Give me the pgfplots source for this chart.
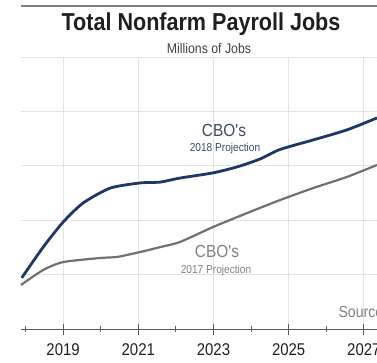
\documentclass[border=0pt]{standalone}
\usepackage{fontspec}
\setmainfont{Liberation Sans}
\newfontfamily\nsans[FakeStretch=0.88]{Liberation Sans}
\usepackage{pgfplots}
\pgfplotsset{compat=1.18}
\definecolor{navy}{RGB}{30,55,100}
\definecolor{lgray}{RGB}{112,112,112}
\definecolor{gridc}{RGB}{226,226,226}
\definecolor{axc}{RGB}{90,90,90}
\definecolor{labblue}{RGB}{60,74,100}
\definecolor{labgray}{RGB}{128,128,128}
\begin{document}
\begin{tikzpicture}[x=1pt,y=1pt]
\useasboundingbox (0,0) rectangle (377,362);
\clip (0,0) rectangle (377,362);
\begin{axis}[
  at={(21pt,33pt)}, anchor=south west,
  scale only axis, width=356pt, height=272pt,
  xmin=2017.88, xmax=2027.35, ymin=146, ymax=156,
  axis x line*=bottom, axis y line*=left,
  y axis line style={draw=none},
  x axis line style={color=axc, line width=1pt},
  ytick={146,148,...,156}, yticklabels={},
  ytick style={draw=none},
  xtick={2019,2021,2023,2025,2027},
  minor xtick={2018,2020,2022,2024,2026},
  xticklabels={2019,2021,2023,2025,2027},
  tick align=center,
  major tick length=11pt, minor tick length=6pt,
  xtick style={color=axc, line width=1pt},
  xmajorgrids, ymajorgrids,
  grid style={color=gridc, line width=0.8pt},
  /pgf/number format/assume math mode=true,
  x tick label style={font=\nsans\fontsize{17}{17}\selectfont, text=black!88, yshift=-5.5pt},
  clip=false,
]
\addplot[color=lgray, line width=2.2pt, smooth, tension=0.4] coordinates {
(2017.88,147.62) (2018.47,148.17) (2019.00,148.46) (2019.98,148.61) (2020.44,148.65)
(2021.05,148.83) (2021.58,149.01) (2022.11,149.20) (2022.99,149.75) (2023.89,150.26)
(2024.77,150.74) (2025.65,151.18) (2026.55,151.59) (2027.35,152.03)
};
\addplot[color=navy, line width=2.8pt, smooth, tension=0.4] coordinates {
(2017.90,147.88) (2018.47,149.01) (2019.00,149.93) (2019.53,150.63) (2020.25,151.18)
(2021.05,151.37) (2021.58,151.40) (2022.11,151.55) (2022.99,151.74) (2023.63,151.96)
(2024.24,152.25) (2024.77,152.60) (2025.65,152.95) (2026.55,153.32) (2027.35,153.76)
};
\end{axis}
\draw[color=black!50, line width=1.3pt] (21,356) -- (377,356);
\node[font=\nsans\bfseries\fontsize{24.5}{24.5}\selectfont, text=black!88] at (201,338) {Total Nonfarm Payroll Jobs};
\node[font=\nsans\fontsize{14}{14}\selectfont, text=black!75] at (209,314) {Millions of Jobs};
\node[font=\nsans\fontsize{17.5}{17.5}\selectfont, text=labblue] at (224,232) {CBO's};
\node[font=\nsans\fontsize{11.5}{11.5}\selectfont, text=labblue] at (225,213) {2018 Projection};
\node[font=\nsans\fontsize{17.5}{17.5}\selectfont, text=labgray] at (217,111) {CBO's};
\node[font=\nsans\fontsize{11.5}{11.5}\selectfont, text=labgray] at (216,91) {2017 Projection};
\node[font=\nsans\fontsize{16}{16}\selectfont, text=labgray, anchor=west] at (335,50) {Source: CBO};
\end{tikzpicture}
\end{document}
